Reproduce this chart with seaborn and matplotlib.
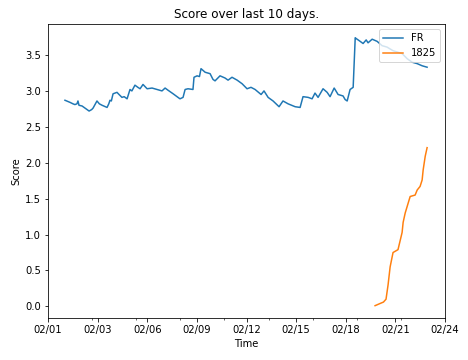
import numpy as np
import pandas as pd
import matplotlib
matplotlib.use("Agg")
import matplotlib.pyplot as plt
import matplotlib.dates as mdates
import seaborn as sns

# --- data (days since 02/01 00:00, score) ---
start = pd.Timestamp("2024-02-01")

fr_day = [1.04, 1.34, 1.51, 1.62, 1.74, 1.80, 1.86, 2.04, 2.45, 2.60, 2.68, 2.91,
          3.05, 3.21, 3.50, 3.60, 3.67, 3.75, 3.85, 4.08, 4.20, 4.37, 4.50, 4.67,
          4.84, 4.95, 5.13, 5.30, 5.43, 5.60, 5.84, 6.13, 6.42, 6.71, 6.89, 7.06,
          7.36, 7.76, 7.94, 8.06, 8.23, 8.52, 8.58, 8.76, 8.90, 8.99, 9.23, 9.52,
          9.69, 9.81, 10.10, 10.39, 10.57, 10.80, 11.10, 11.39, 11.68, 11.91, 12.15,
          12.50, 12.67, 12.91, 13.20, 13.55, 13.78, 14.08, 14.49, 14.78, 14.95,
          15.25, 15.48, 15.65, 15.83, 16.12, 16.36, 16.53, 16.77, 17.00, 17.29,
          17.41, 17.53, 17.70, 17.88, 18.00, 18.05, 18.23, 18.46, 18.64, 18.75,
          18.99, 19.28, 19.57, 19.86, 20.21, 20.74, 21.03, 21.32, 21.62, 21.91, 22.20]
fr_score = [2.87, 2.84, 2.82, 2.81, 2.82, 2.86, 2.80, 2.79, 2.72, 2.74, 2.76, 2.86,
            2.82, 2.80, 2.77, 2.82, 2.87, 2.86, 2.96, 2.98, 2.95, 2.91, 2.92, 2.89,
            3.02, 3.00, 3.08, 3.05, 3.03, 3.09, 3.03, 3.04, 3.02, 3.00, 3.04, 3.01,
            2.96, 2.89, 2.91, 3.02, 3.03, 3.02, 3.19, 3.21, 3.20, 3.31, 3.26, 3.24,
            3.16, 3.14, 3.21, 3.18, 3.15, 3.19, 3.15, 3.10, 3.03, 3.05, 3.02,
            2.95, 3.00, 2.91, 2.86, 2.78, 2.86, 2.82, 2.78, 2.77, 2.92,
            2.91, 2.89, 2.97, 2.91, 3.03, 2.98, 2.92, 3.04, 2.95, 2.93,
            2.88, 2.86, 3.02, 3.05, 3.74, 3.73, 3.70, 3.66, 3.71, 3.67,
            3.72, 3.69, 3.63, 3.61, 3.56, 3.52, 3.45, 3.40, 3.38, 3.35, 3.33]

k_day = [19.16, 19.45, 19.65, 19.80, 19.92, 20.04, 20.21, 20.50, 20.74, 20.80,
         20.92, 21.21, 21.50, 21.62, 21.79, 21.91, 21.97, 22.09, 22.20]
k_score = [0.01, 0.04, 0.06, 0.10, 0.30, 0.55, 0.75, 0.79, 1.03, 1.17,
           1.30, 1.53, 1.55, 1.62, 1.67, 1.76, 1.90, 2.09, 2.21]

fr = pd.DataFrame({"Time": start + pd.to_timedelta(fr_day, unit="D"), "Score": fr_score})
k = pd.DataFrame({"Time": start + pd.to_timedelta(k_day, unit="D"), "Score": k_score})

fig, ax = plt.subplots(figsize=(6.5, 5), dpi=72)
sns.lineplot(data=fr, x="Time", y="Score", ax=ax, label="FR")
sns.lineplot(data=k, x="Time", y="Score", ax=ax, label="1825")

# x axis: 8 equal steps across the view, labelled as dates
lo = mdates.date2num(start + pd.Timedelta(days=0.05))
hi = mdates.date2num(start + pd.Timedelta(days=23.25))
ax.set_xlim(lo, hi)
ax.set_xticks(np.linspace(lo, hi, 9))
ax.set_xticks(np.linspace(lo, hi, 10), minor=True)
ax.xaxis.set_major_formatter(mdates.DateFormatter("%m/%d"))
ax.set_ylim(-0.16, 3.93)

ax.set_title("Score over last 10 days.")
ax.set_xlabel("Time")
ax.set_ylabel("Score")
ax.legend(loc="upper right")

fig.subplots_adjust(left=0.1026, right=0.951, top=0.933, bottom=0.117)
fig.savefig("out.png", dpi=72)
